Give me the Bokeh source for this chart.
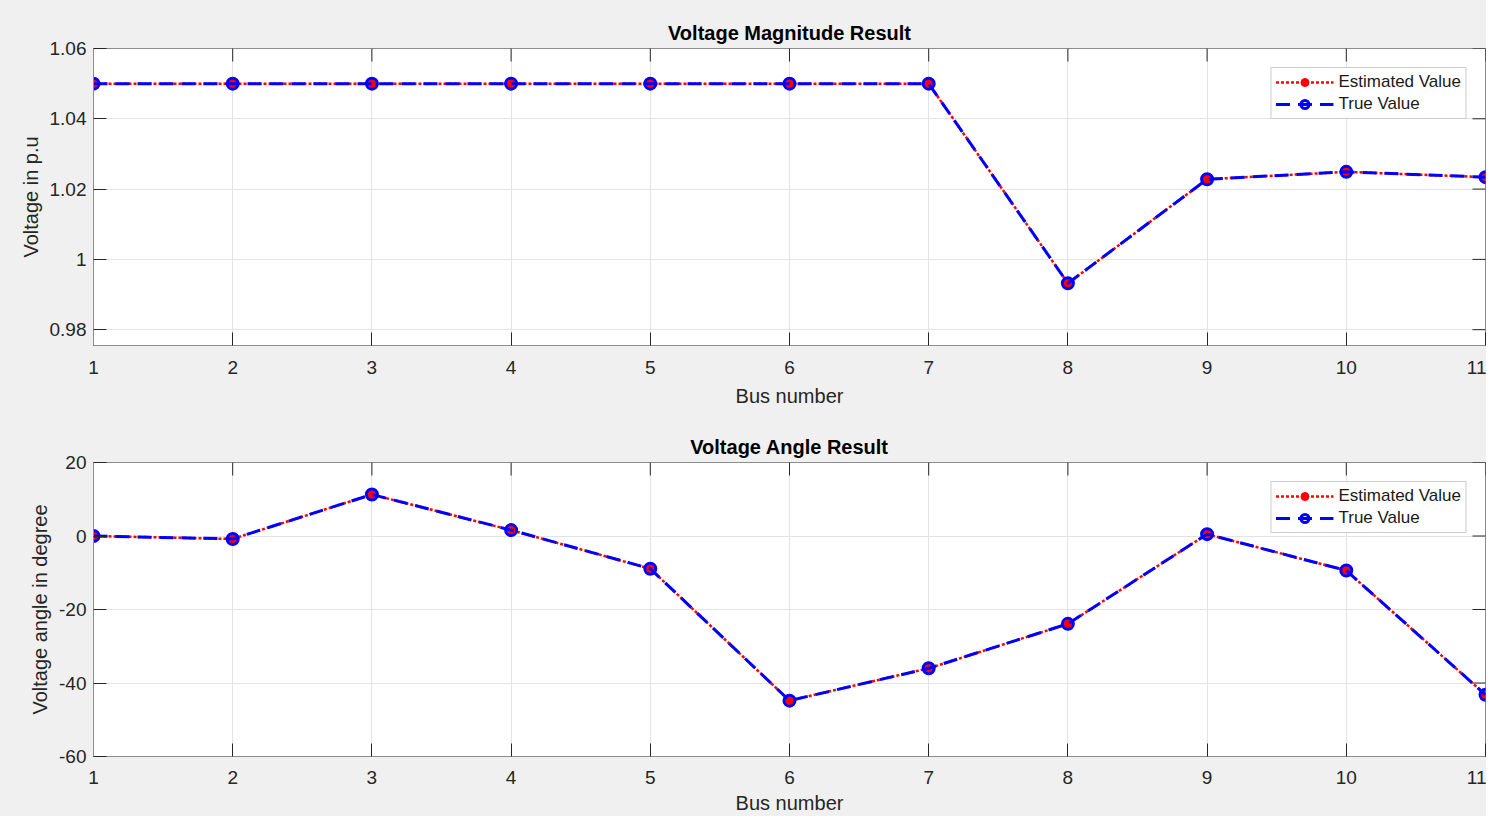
import math
from bokeh.plotting import figure
from bokeh.layouts import column
from bokeh.models import (Range1d, FixedTicker, Legend, LegendItem,
                          CustomJSTickFormatter)
from bokeh.embed import file_html
from bokeh.resources import INLINE

# ---------------- data ----------------
bus = [1, 2, 3, 4, 5, 6, 7, 8, 9, 10, 11]
vm_est = [1.05, 1.05, 1.05, 1.05, 1.05, 1.05, 1.05, 0.9932, 1.0228, 1.0249, 1.0234]
vm_true = [1.05, 1.05, 1.05, 1.05, 1.05, 1.05, 1.05, 0.9932, 1.0228, 1.0249, 1.0234]
va_est = [0.0, -0.8, 11.3, 1.6, -8.9, -44.8, -36.0, -23.9, 0.5, -9.4, -43.2]
va_true = [0.0, -0.8, 11.3, 1.6, -8.9, -44.8, -36.0, -23.9, 0.5, -9.4, -43.2]
x_ticks = [1, 2, 3, 4, 5, 6, 7, 8, 9, 10, 11]
vm_ticks = [0.98, 1.0, 1.02, 1.04, 1.06]
va_ticks = [-60, -40, -20, 0, 20]

FONT = "Liberation Sans"
BG = "#f0f0f0"
AX = "#8c8c8c"
TK = "#262626"


def make_fig(title, ylabel, yr, yticks, est, true, height, top, bottom, xstand, xlstand):
    p = figure(width=1486, height=height, output_backend="svg", toolbar_location=None,
               x_range=Range1d(1, 11), y_range=Range1d(*yr),
               min_border_left=93, min_border_right=1,
               min_border_top=top, min_border_bottom=bottom,
               background_fill_color="white", border_fill_color=BG)
    p.outline_line_color = AX
    xt = FixedTicker(ticks=x_ticks)
    yt = FixedTicker(ticks=yticks)
    p.xaxis.ticker = xt
    p.yaxis.ticker = yt
    p.xgrid.ticker = xt
    p.ygrid.ticker = yt
    p.yaxis.formatter = CustomJSTickFormatter(
        code="return String(Math.round(tick*100)/100);")
    for ax in (p.xaxis, p.yaxis):
        ax.major_tick_in = 13
        ax.major_tick_out = 0
        ax.minor_tick_in = 0
        ax.minor_tick_out = 0
        ax.axis_line_color = AX
        ax.major_tick_line_color = TK
        ax.major_label_text_font = FONT
        ax.major_label_text_font_size = "19px"
        ax.major_label_text_color = TK
        ax.axis_label_text_font = FONT
        ax.axis_label_text_font_size = "20px"
        ax.axis_label_text_font_style = "normal"
        ax.axis_label_text_color = TK
    p.xaxis.axis_label = "Bus number"
    p.yaxis.axis_label = ylabel
    p.xaxis.major_label_standoff = xstand
    p.xaxis.axis_label_standoff = xlstand
    p.yaxis.major_label_standoff = 7
    p.yaxis.axis_label_standoff = 5
    p.xgrid.grid_line_color = "#e3e3e3"
    p.ygrid.grid_line_color = "#e3e3e3"

    # inward ticks on the top and right edges of the box (half clipped by the frame)
    p.scatter(x_ticks, [yr[1]] * len(x_ticks), marker="dash", size=26,
              angle=math.pi / 2, line_color=TK, line_width=1)
    p.scatter([x_ticks[-1]] * len(yticks), yticks, marker="dash", size=26,
              line_color=TK, line_width=1)

    p.title.text = title
    p.title.align = "center"
    p.title.text_font = FONT
    p.title.text_font_size = "20px"
    p.title.text_font_style = "bold"
    p.title.text_color = "black"

    r_line = p.line(bus, est, line_color="red", line_width=2.5, line_dash="3 2")
    r_mark = p.scatter(bus, est, marker="circle", size=9, fill_color="red",
                       line_color="red", line_width=1)
    b_line = p.line(bus, true, line_color="blue", line_width=3, line_dash="14 8")
    b_mark = p.scatter(bus, true, marker="circle", size=11, fill_color=None,
                       line_color="blue", line_width=3)

    leg = Legend(items=[LegendItem(label="Estimated Value", renderers=[r_line, r_mark]),
                        LegendItem(label="True Value", renderers=[b_line, b_mark])],
                 location="top_right", margin=19, padding=4, spacing=2,
                 label_standoff=5, glyph_width=58, glyph_height=20, label_height=20,
                 label_text_font=FONT, label_text_font_size="17px",
                 label_text_color="#1a1a1a", border_line_color="#9a9a9a",
                 background_fill_color="white", background_fill_alpha=1.0)
    p.add_layout(leg)
    return p


p1 = make_fig("Voltage Magnitude Result", "Voltage in p.u", (0.9755, 1.06), vm_ticks,
              vm_est, vm_true, 412, 48, 67, 15, 8)
p2 = make_fig("Voltage Angle Result", "Voltage angle in degree", (-60, 20), va_ticks,
              va_est, va_true, 404, 50, 57, 14, 5)

layout = column(p1, p2, spacing=0, styles={"background-color": BG})
open("out.html", "w").write(file_html(layout, INLINE))
